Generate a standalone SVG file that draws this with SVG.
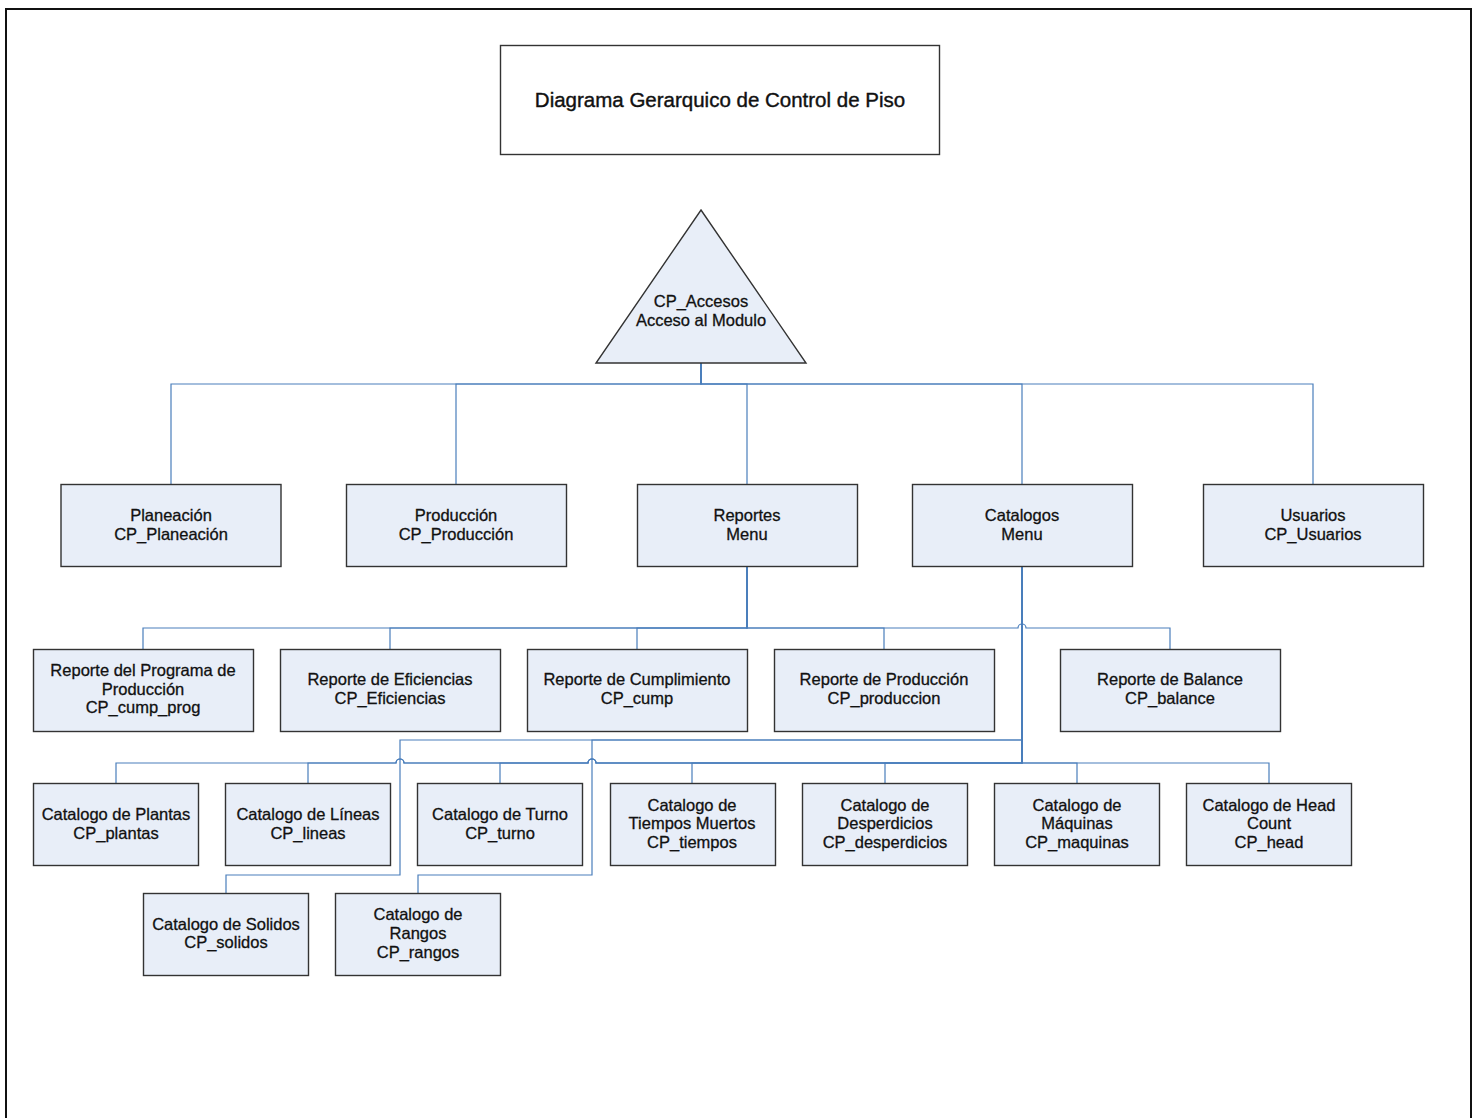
<svg xmlns="http://www.w3.org/2000/svg" width="1478" height="1118" viewBox="0 0 1478 1118">
  <style>
    .frame { fill: none; stroke: #111; stroke-width: 2; }
    .box { fill: #e8eef8; stroke: #333; stroke-width: 1.4; }
    .title-box { fill: #fff; stroke: #333; stroke-width: 1.4; }
    .lbl { font-family: "Liberation Sans", Arial, sans-serif; font-size: 16.5px; fill: #111; stroke: #111; stroke-width: 0.3; text-anchor: middle; }
    .title { font-family: "Liberation Sans", Arial, sans-serif; font-size: 20.5px; fill: #111; stroke: #111; stroke-width: 0.4; text-anchor: middle; }
    .c { fill: none; stroke: #4a7ebb; stroke-width: 1.2; }
  </style>

  <!-- page frame -->
  <path class="frame" d="M6,1118 V9 H1471 V1118"/>

  <!-- title -->
  <g id="title">
    <rect class="title-box" x="500.5" y="45.5" width="439" height="109"/>
    <text class="title" x="720" y="107">Diagrama Gerarquico de Control de Piso</text>
  </g>

  <!-- connectors -->
  <g id="connectors">
    <!-- root to first level -->
    <path class="c" d="M701,321 V384 H171 V484"/>
    <path class="c" d="M701,321 V384 H456 V484"/>
    <path class="c" d="M701,321 V384 H747 V484"/>
    <path class="c" d="M701,321 V384 H1022 V484"/>
    <path class="c" d="M701,321 V384 H1313 V484"/>
    <!-- Reportes to reports -->
    <path class="c" d="M747,567 V628 H143 V649"/>
    <path class="c" d="M747,567 V628 H390 V649"/>
    <path class="c" d="M747,567 V628 H637 V649"/>
    <path class="c" d="M747,567 V628 H884 V649"/>
    <path class="c" d="M747,567 V628 H1018 a4,4 0 0 1 8,0 H1170 V649"/>
    <!-- Catalogos to catalogs -->
    <path class="c" d="M1022,567 V763 H596 a4,4 0 0 0 -8,0 H404 a4,4 0 0 0 -8,0 H116 V783"/>
    <path class="c" d="M1022,567 V763 H596 a4,4 0 0 0 -8,0 H404 a4,4 0 0 0 -8,0 H308 V783"/>
    <path class="c" d="M1022,567 V763 H596 a4,4 0 0 0 -8,0 H500 V783"/>
    <path class="c" d="M1022,567 V763 H692 V783"/>
    <path class="c" d="M1022,567 V763 H885 V783"/>
    <path class="c" d="M1022,567 V763 H1077 V783"/>
    <path class="c" d="M1022,567 V763 H1269 V783"/>
    <path class="c" d="M1022,567 V740 H400 V875 H226 V893"/>
    <path class="c" d="M1022,567 V740 H592 V875 H418 V893"/>
  </g>

  <!-- root -->
  <g id="cp-accesos">
    <polygon class="box" points="701,210 806,363 596,363"/>
    <text class="lbl" x="701" y="307">CP_Accesos</text>
    <text class="lbl" x="701" y="326">Acceso al Modulo</text>
  </g>

  <!-- first level -->
  <g id="planeacion">
    <rect class="box" x="61" y="484.5" width="220" height="82"/>
    <text class="lbl" x="171" y="521">Planeación</text>
    <text class="lbl" x="171" y="540">CP_Planeación</text>
  </g>
  <g id="produccion">
    <rect class="box" x="346.5" y="484.5" width="220" height="82"/>
    <text class="lbl" x="456" y="521">Producción</text>
    <text class="lbl" x="456" y="540">CP_Producción</text>
  </g>
  <g id="reportes">
    <rect class="box" x="637.5" y="484.5" width="220" height="82"/>
    <text class="lbl" x="747" y="521">Reportes</text>
    <text class="lbl" x="747" y="540">Menu</text>
  </g>
  <g id="catalogos">
    <rect class="box" x="912.5" y="484.5" width="220" height="82"/>
    <text class="lbl" x="1022" y="521">Catalogos</text>
    <text class="lbl" x="1022" y="540">Menu</text>
  </g>
  <g id="usuarios">
    <rect class="box" x="1203.5" y="484.5" width="220" height="82"/>
    <text class="lbl" x="1313" y="521">Usuarios</text>
    <text class="lbl" x="1313" y="540">CP_Usuarios</text>
  </g>

  <!-- reports -->
  <g id="rep-cump-prog">
    <rect class="box" x="33.5" y="649.5" width="220" height="82"/>
    <text class="lbl" x="143" y="676">Reporte del Programa de</text>
    <text class="lbl" x="143" y="695">Producción</text>
    <text class="lbl" x="143" y="713">CP_cump_prog</text>
  </g>
  <g id="rep-eficiencias">
    <rect class="box" x="280.5" y="649.5" width="220" height="82"/>
    <text class="lbl" x="390" y="685">Reporte de Eficiencias</text>
    <text class="lbl" x="390" y="704">CP_Eficiencias</text>
  </g>
  <g id="rep-cump">
    <rect class="box" x="527.5" y="649.5" width="220" height="82"/>
    <text class="lbl" x="637" y="685">Reporte de Cumplimiento</text>
    <text class="lbl" x="637" y="704">CP_cump</text>
  </g>
  <g id="rep-produccion">
    <rect class="box" x="774.5" y="649.5" width="220" height="82"/>
    <text class="lbl" x="884" y="685">Reporte de Producción</text>
    <text class="lbl" x="884" y="704">CP_produccion</text>
  </g>
  <g id="rep-balance">
    <rect class="box" x="1060.5" y="649.5" width="220" height="82"/>
    <text class="lbl" x="1170" y="685">Reporte de Balance</text>
    <text class="lbl" x="1170" y="704">CP_balance</text>
  </g>

  <!-- catalogs -->
  <g id="cat-plantas">
    <rect class="box" x="33.5" y="783.5" width="165" height="82"/>
    <text class="lbl" x="116" y="820">Catalogo de Plantas</text>
    <text class="lbl" x="116" y="839">CP_plantas</text>
  </g>
  <g id="cat-lineas">
    <rect class="box" x="225.5" y="783.5" width="165" height="82"/>
    <text class="lbl" x="308" y="820">Catalogo de Líneas</text>
    <text class="lbl" x="308" y="839">CP_lineas</text>
  </g>
  <g id="cat-turno">
    <rect class="box" x="417.5" y="783.5" width="165" height="82"/>
    <text class="lbl" x="500" y="820">Catalogo de Turno</text>
    <text class="lbl" x="500" y="839">CP_turno</text>
  </g>
  <g id="cat-tiempos">
    <rect class="box" x="610.5" y="783.5" width="165" height="82"/>
    <text class="lbl" x="692" y="811">Catalogo de</text>
    <text class="lbl" x="692" y="829">Tiempos Muertos</text>
    <text class="lbl" x="692" y="848">CP_tiempos</text>
  </g>
  <g id="cat-desperdicios">
    <rect class="box" x="802.5" y="783.5" width="165" height="82"/>
    <text class="lbl" x="885" y="811">Catalogo de</text>
    <text class="lbl" x="885" y="829">Desperdicios</text>
    <text class="lbl" x="885" y="848">CP_desperdicios</text>
  </g>
  <g id="cat-maquinas">
    <rect class="box" x="994.5" y="783.5" width="165" height="82"/>
    <text class="lbl" x="1077" y="811">Catalogo de</text>
    <text class="lbl" x="1077" y="829">Máquinas</text>
    <text class="lbl" x="1077" y="848">CP_maquinas</text>
  </g>
  <g id="cat-head">
    <rect class="box" x="1186.5" y="783.5" width="165" height="82"/>
    <text class="lbl" x="1269" y="811">Catalogo de Head</text>
    <text class="lbl" x="1269" y="829">Count</text>
    <text class="lbl" x="1269" y="848">CP_head</text>
  </g>
  <g id="cat-solidos">
    <rect class="box" x="143.5" y="893.5" width="165" height="82"/>
    <text class="lbl" x="226" y="930">Catalogo de Solidos</text>
    <text class="lbl" x="226" y="948">CP_solidos</text>
  </g>
  <g id="cat-rangos">
    <rect class="box" x="335.5" y="893.5" width="165" height="82"/>
    <text class="lbl" x="418" y="920">Catalogo de</text>
    <text class="lbl" x="418" y="939">Rangos</text>
    <text class="lbl" x="418" y="958">CP_rangos</text>
  </g>
</svg>
